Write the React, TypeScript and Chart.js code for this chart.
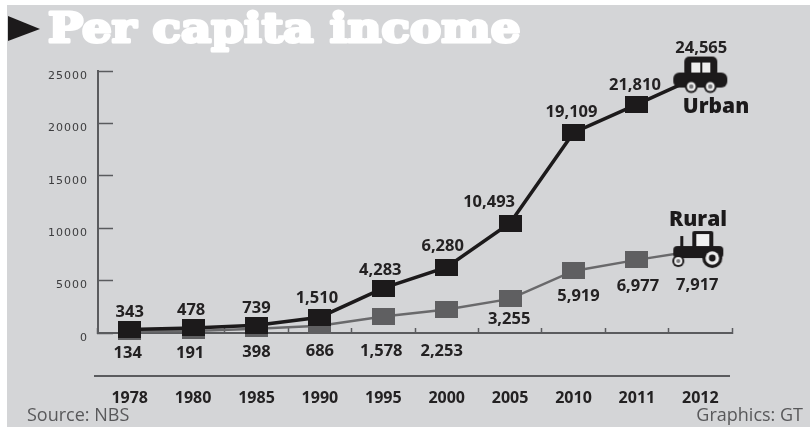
import React, { useEffect, useRef } from "react";
import { Chart, registerables } from "chart.js";

Chart.register(...registerables);

const years = ["1978", "1980", "1985", "1990", "1995", "2000", "2005", "2010", "2011", "2012"];
const urbanIncome = [343, 478, 739, 1510, 4283, 6280, 10493, 19109, 21810, 24565];
const ruralIncome = [134, 191, 398, 686, 1578, 2253, 3255, 5919, 6977, 7917];

// Value label placement relative to each point, in pixels: [dx, dy]
const urbanLabelOffsets = [[0, -17], [-2, -18], [0, -17], [-3, -19], [-3, -18], [-4, -21], [-21, -21], [-2, -20], [-2, -19], [1, -27]];
const ruralLabelOffsets = [[-2, 22], [-3, 22], [0, 23], [0, 25], [-2, 35], [-5, 42], [-1, 20], [5, 25], [1, 26], [-3, 35]];

const PANEL = "#d4d5d7";
const INK = "#1c1a1b";
const RURAL_GRAY = "#5f5f61";
const AXIS_GRAY = "#5a5b5e";
const LABEL_FONT = '700 16.5px "Open Sans"';

function makeCanvas(w: number, h: number) {
  const c = document.createElement("canvas");
  c.width = w;
  c.height = h;
  return c;
}

function squareMarker(color: string) {
  const c = makeCanvas(23, 17);
  const g = c.getContext("2d")!;
  g.fillStyle = color;
  g.fillRect(0, 0, 23, 17);
  return c;
}

function wheel(g: CanvasRenderingContext2D, x: number, y: number, r: number) {
  g.fillStyle = INK;
  g.beginPath();
  g.arc(x, y, r, 0, Math.PI * 2);
  g.fill();
  g.fillStyle = "#eeeeee";
  g.beginPath();
  g.arc(x, y, r * 0.68, 0, Math.PI * 2);
  g.fill();
  g.fillStyle = r > 8 ? INK : "#77777a";
  g.beginPath();
  g.arc(x, y, r * 0.34, 0, Math.PI * 2);
  g.fill();
}

// Car pictogram, centred on the last urban point
function carIcon() {
  const c = makeCanvas(60, 60);
  const g = c.getContext("2d")!;
  g.fillStyle = INK;
  g.beginPath();
  g.roundRect(14, 11, 33, 20, 5);
  g.fill();
  g.beginPath();
  g.roundRect(3, 27, 54, 15, 6);
  g.fill();
  g.fillStyle = "#eeeeee";
  g.fillRect(21, 17, 9, 10);
  g.fillRect(32, 17, 8, 10);
  wheel(g, 21, 41, 6.5);
  wheel(g, 40, 41, 6.5);
  return c;
}

// Tractor pictogram, centred on the last rural point
function tractorIcon() {
  const c = makeCanvas(60, 60);
  const g = c.getContext("2d")!;
  g.fillStyle = INK;
  g.beginPath();
  g.roundRect(22, 11, 21, 18, 2);
  g.fill();
  g.fillStyle = "#f1f1f1";
  g.fillRect(26, 14, 13, 12);
  g.fillStyle = INK;
  g.fillRect(10, 16, 3, 12);
  g.beginPath();
  g.roundRect(3, 26, 50, 12, 4);
  g.fill();
  wheel(g, 8, 41, 6);
  wheel(g, 42, 38, 10);
  return c;
}

const overlay = {
  id: "overlay",
  beforeDraw(chart: Chart) {
    const { ctx } = chart;
    ctx.save();
    ctx.fillStyle = "#ffffff";
    ctx.fillRect(0, 0, 810, 427);
    ctx.fillStyle = PANEL;
    ctx.fillRect(7, 5, 803, 422);

    ctx.fillStyle = INK;
    ctx.beginPath();
    ctx.moveTo(8, 16);
    ctx.lineTo(40, 29);
    ctx.lineTo(8, 41);
    ctx.closePath();
    ctx.fill();

    // Title is stretched and thickened into a heavy display face
    ctx.save();
    ctx.translate(48, 42);
    ctx.scale(1.14, 1);
    ctx.fillStyle = "#ffffff";
    ctx.strokeStyle = "#ffffff";
    ctx.lineWidth = 3;
    ctx.lineJoin = "round";
    ctx.font = '700 41px "DejaVu Serif"';
    ctx.textBaseline = "alphabetic";
    ctx.textAlign = "left";
    ctx.strokeText("Per capita income", 0, 0);
    ctx.fillText("Per capita income", 0, 0);
    ctx.restore();
    ctx.restore();
  },
  afterDraw(chart: Chart) {
    const { ctx, chartArea } = chart;
    const xScale = chart.scales.x;
    const yScale = chart.scales.y;
    ctx.save();

    // Rule between the value rows and the year labels
    ctx.strokeStyle = AXIS_GRAY;
    ctx.lineWidth = 2;
    ctx.beginPath();
    ctx.moveTo(chartArea.left - 4, 376);
    ctx.lineTo(chartArea.right - 2, 376);
    ctx.stroke();

    // Vertical axis numbers sit a little below their tick marks
    ctx.fillStyle = "#3c3c3e";
    ctx.font = '400 11px "DejaVu Sans"';
    (ctx as any).letterSpacing = "1px";
    ctx.textAlign = "right";
    ctx.textBaseline = "middle";
    yScale.ticks.forEach((t) => {
      ctx.fillText(String(t.value), 88, yScale.getPixelForValue(t.value) + 5);
    });
    (ctx as any).letterSpacing = "0px";

    // Value labels
    ctx.fillStyle = "#232122";
    ctx.font = LABEL_FONT;
    ctx.textAlign = "center";
    const put = (values: number[], offsets: number[][]) =>
      values.forEach((v, i) => {
        ctx.fillText(
          v.toLocaleString("en-US"),
          xScale.getPixelForValue(i) + offsets[i][0],
          yScale.getPixelForValue(v) + offsets[i][1],
        );
      });
    put(urbanIncome, urbanLabelOffsets);
    put(ruralIncome, ruralLabelOffsets);

    // Series names
    ctx.fillStyle = INK;
    ctx.font = '800 21px "Open Sans"';
    ctx.fillText("Urban", 716, 107);
    ctx.fillText("Rural", 698, 220);

    // Footer credits
    ctx.fillStyle = "#58585a";
    ctx.font = '400 18px "Open Sans"';
    ctx.textAlign = "left";
    ctx.fillText("Source: NBS", 27, 416);
    ctx.textAlign = "right";
    ctx.fillText("Graphics: GT", 803, 416);
    ctx.restore();
  },
};

export default function App() {
  const ref = useRef<HTMLCanvasElement>(null);

  useEffect(() => {
    const black = squareMarker(INK);
    const gray = squareMarker(RURAL_GRAY);
    const car = carIcon();
    const tractor = tractorIcon();
    const last = years.length - 1;

    const chart = new Chart(ref.current!, {
      type: "line",
      data: {
        labels: years,
        datasets: [
          {
            label: "Urban",
            data: urbanIncome,
            borderColor: INK,
            borderWidth: 3.5,
            tension: 0,
            clip: false,
            pointRadius: 10,
            pointStyle: (c: any) => (c.dataIndex === last ? car : black),
          },
          {
            label: "Rural",
            data: ruralIncome,
            borderColor: "#69696b",
            borderWidth: 2.5,
            tension: 0,
            clip: false,
            pointRadius: 10,
            pointStyle: (c: any) => (c.dataIndex === last ? tractor : gray),
          },
        ],
      },
      options: {
        responsive: false,
        animation: false,
        layout: { padding: { top: 71, right: 78, left: 0, bottom: 0 } },
        plugins: { legend: { display: false }, tooltip: { enabled: false } },
        scales: {
          x: {
            type: "category",
            offset: true,
            afterFit: (s: any) => {
              s.height = 94;
              s.paddingLeft = 0;
              s.paddingRight = 0;
            },
            grid: {
              offset: true,
              drawOnChartArea: false,
              drawTicks: true,
              tickLength: -5,
              tickColor: AXIS_GRAY,
              tickWidth: 1.5,
            },
            border: { color: AXIS_GRAY, width: 2 },
            ticks: {
              padding: 61,
              maxRotation: 0,
              autoSkip: false,
              color: "#232122",
              font: { family: '"Open Sans"', weight: "700", size: 16 },
            },
          },
          y: {
            min: 0,
            max: 25000,
            afterFit: (s: any) => {
              s.width = 98;
            },
            grid: {
              drawOnChartArea: false,
              drawTicks: true,
              tickLength: -15,
              tickColor: AXIS_GRAY,
              tickWidth: 1.5,
            },
            border: { color: AXIS_GRAY, width: 2 },
            ticks: { display: false, stepSize: 5000 },
          },
        },
      },
      plugins: [overlay],
    } as any);
    return () => chart.destroy();
  }, []);

  return (
    <div style={{ position: "fixed", left: 0, top: 0, width: 810, height: 427 }}>
      <canvas ref={ref} width={810} height={427} style={{ display: "block" }} />
    </div>
  );
}
